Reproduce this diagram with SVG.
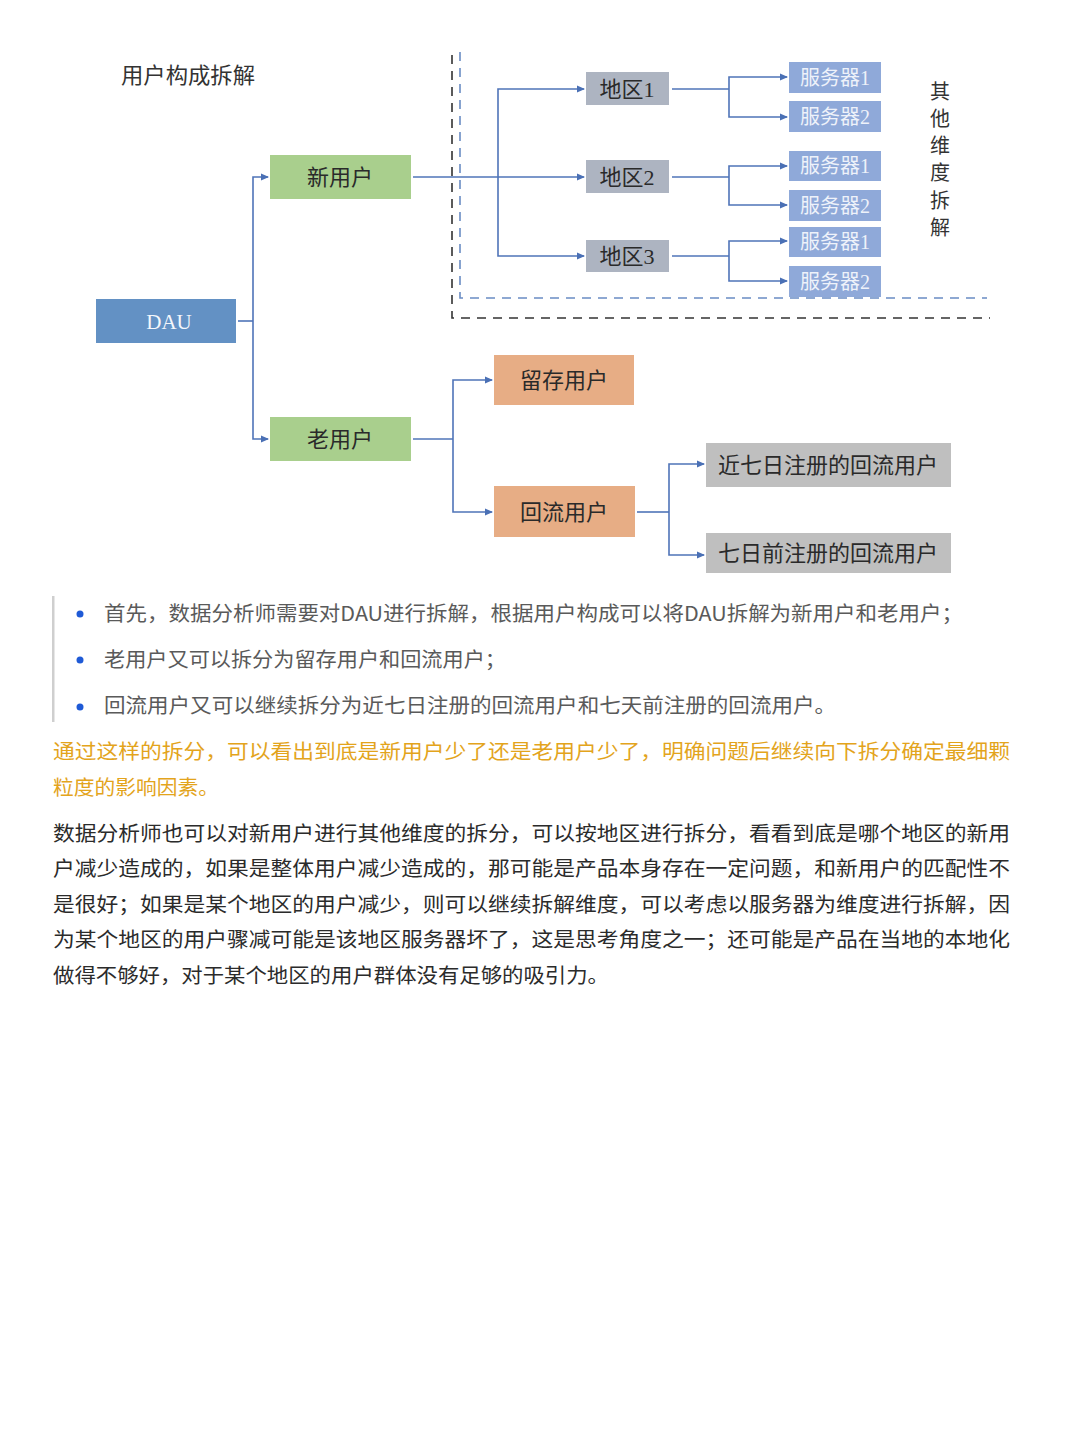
<svg xmlns="http://www.w3.org/2000/svg" width="1080" height="1440" viewBox="0 0 1080 1440">
<defs>
<marker id="ah" markerWidth="8" markerHeight="8" refX="7" refY="4" orient="auto" markerUnits="userSpaceOnUse">
<path d="M0,0.5 L8,4 L0,7.5 Z" fill="#4a70b5"/>
</marker>
</defs>
<style>
.c{fill:none;stroke:#4f74b8;stroke-width:1.6}
.a{marker-end:url(#ah)}
.lbl{font-family:"Liberation Serif","Noto Sans CJK SC",serif;font-size:22px;text-anchor:middle;fill:#2a2a2a}
.sv{font-family:"Liberation Serif","Noto Sans CJK SC",serif;font-size:20px;text-anchor:middle;fill:#eef2fa}
.body{font-family:"Noto Sans CJK SC","Noto Sans",sans-serif;font-size:20px}
</style>
<rect width="1080" height="1440" fill="#ffffff"/>
<text x="121" y="83" font-family="Noto Sans CJK SC, sans-serif" font-size="22" fill="#333" textLength="134" lengthAdjust="spacingAndGlyphs">用户构成拆解</text>

<g id="dashes">
<path d="M452,55 V318 H990" fill="none" stroke="#333" stroke-width="1.6" stroke-dasharray="9,7"/>
<path d="M460,52 V298 H987" fill="none" stroke="#6a8cc4" stroke-width="1.6" stroke-dasharray="9,7"/>
</g>

<g id="connectors">
<path class="c" d="M238,321 H253"/>
<path class="c a" d="M253,321 V177 H268"/>
<path class="c a" d="M253,321 V439 H268"/>
<path class="c a" d="M413,177 H584"/>
<path class="c a" d="M498,177 V89 H584"/>
<path class="c a" d="M498,177 V256 H584"/>
<path class="c" d="M672,89 H729"/>
<path class="c a" d="M729,89 V77 H787"/>
<path class="c a" d="M729,89 V117 H787"/>
<path class="c" d="M672,177 H729"/>
<path class="c a" d="M729,177 V166 H787"/>
<path class="c a" d="M729,177 V205 H787"/>
<path class="c" d="M672,256 H729"/>
<path class="c a" d="M729,256 V241 H787"/>
<path class="c a" d="M729,256 V281 H787"/>
<path class="c" d="M413,439 H453"/>
<path class="c a" d="M453,439 V380 H492"/>
<path class="c a" d="M453,439 V512 H492"/>
<path class="c" d="M637,512 H669"/>
<path class="c a" d="M669,512 V464 H704"/>
<path class="c a" d="M669,512 V555 H704"/>
</g>

<g id="n-dau"><rect x="96" y="299" width="140" height="44" fill="#6391c4"/><text x="169" y="329" class="lbl" style="fill:#f4f7fc;font-size:21px">DAU</text></g>
<g id="n-new"><rect x="270" y="155" width="141" height="44" fill="#a9cf8d"/><text x="340" y="185" class="lbl">新用户</text></g>
<g id="n-old"><rect x="270" y="417" width="141" height="44" fill="#a9cf8d"/><text x="340" y="447" class="lbl">老用户</text></g>

<g id="n-r1"><rect x="586" y="72" width="83" height="33" fill="#adb4c1"/><text x="627" y="97" class="lbl">地区1</text></g>
<g id="n-r2"><rect x="586" y="160" width="83" height="33" fill="#adb4c1"/><text x="627" y="185" class="lbl">地区2</text></g>
<g id="n-r3"><rect x="586" y="240" width="83" height="32" fill="#adb4c1"/><text x="627" y="264" class="lbl">地区3</text></g>

<g id="n-s11"><rect x="789" y="62" width="92" height="31" fill="#8fa9d9"/><text x="835" y="85" class="sv">服务器1</text></g>
<g id="n-s12"><rect x="789" y="101" width="92" height="31" fill="#8fa9d9"/><text x="835" y="124" class="sv">服务器2</text></g>
<g id="n-s21"><rect x="789" y="151" width="92" height="30" fill="#8fa9d9"/><text x="835" y="173" class="sv">服务器1</text></g>
<g id="n-s22"><rect x="789" y="190" width="92" height="31" fill="#8fa9d9"/><text x="835" y="213" class="sv">服务器2</text></g>
<g id="n-s31"><rect x="789" y="227" width="92" height="30" fill="#8fa9d9"/><text x="835" y="249" class="sv">服务器1</text></g>
<g id="n-s32"><rect x="789" y="266" width="92" height="31" fill="#8fa9d9"/><text x="835" y="289" class="sv">服务器2</text></g>

<g id="n-other">
<text x="940" y="81" font-family="Noto Sans CJK SC, sans-serif" font-size="20" fill="#333" writing-mode="vertical-rl" letter-spacing="7.3">其他维度拆解</text>
</g>

<g id="n-keep"><rect x="494" y="355" width="140" height="50" fill="#e7ad85"/><text x="564" y="388" class="lbl">留存用户</text></g>
<g id="n-back"><rect x="494" y="486" width="141" height="51" fill="#e7ad85"/><text x="564" y="520" class="lbl">回流用户</text></g>
<g id="n-b7"><rect x="706" y="443" width="245" height="44" fill="#bfbfbf"/><text x="828" y="473" class="lbl">近七日注册的回流用户</text></g>
<g id="n-bb"><rect x="706" y="533" width="245" height="40" fill="#bfbfbf"/><text x="828" y="561" class="lbl">七日前注册的回流用户</text></g>

<g id="bullets">
<rect x="52" y="596" width="2.5" height="126" fill="#cfcfcf"/>
<circle cx="80" cy="614" r="3.5" fill="#1f5ad6"/>
<circle cx="80" cy="660" r="3.5" fill="#1f5ad6"/>
<circle cx="80" cy="707" r="3.5" fill="#1f5ad6"/>
<text x="104" y="621" class="body" fill="#5a5a5a" textLength="859" lengthAdjust="spacingAndGlyphs">首先，数据分析师需要对DAU进行拆解，根据用户构成可以将DAU拆解为新用户和老用户；</text>
<text x="104" y="667" class="body" fill="#5a5a5a" textLength="402" lengthAdjust="spacingAndGlyphs">老用户又可以拆分为留存用户和回流用户；</text>
<text x="104" y="713" class="body" fill="#5a5a5a" textLength="732" lengthAdjust="spacingAndGlyphs">回流用户又可以继续拆分为近七日注册的回流用户和七天前注册的回流用户。</text>
</g>

<g id="para1" class="body" fill="#e3a41c">
<text x="53" y="759" textLength="957" lengthAdjust="spacingAndGlyphs">通过这样的拆分，可以看出到底是新用户少了还是老用户少了，明确问题后继续向下拆分确定最细颗</text>
<text x="53" y="795" textLength="166" lengthAdjust="spacingAndGlyphs">粒度的影响因素。</text>
</g>

<g id="para2" class="body" fill="#2b2b2b">
<text x="53" y="841" textLength="957" lengthAdjust="spacingAndGlyphs">数据分析师也可以对新用户进行其他维度的拆分，可以按地区进行拆分，看看到底是哪个地区的新用</text>
<text x="53" y="876" textLength="957" lengthAdjust="spacingAndGlyphs">户减少造成的，如果是整体用户减少造成的，那可能是产品本身存在一定问题，和新用户的匹配性不</text>
<text x="53" y="912" textLength="957" lengthAdjust="spacingAndGlyphs">是很好；如果是某个地区的用户减少，则可以继续拆解维度，可以考虑以服务器为维度进行拆解，因</text>
<text x="53" y="947" textLength="957" lengthAdjust="spacingAndGlyphs">为某个地区的用户骤减可能是该地区服务器坏了，这是思考角度之一；还可能是产品在当地的本地化</text>
<text x="53" y="983" textLength="556" lengthAdjust="spacingAndGlyphs">做得不够好，对于某个地区的用户群体没有足够的吸引力。</text>
</g>
</svg>
